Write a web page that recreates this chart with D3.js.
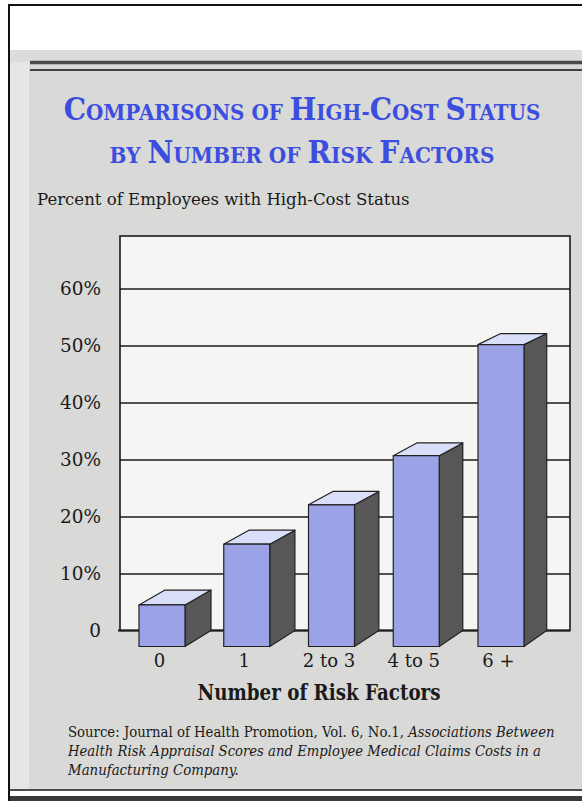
<!DOCTYPE html>
<html lang="en">
<head>
<meta charset="UTF-8">
<title>High-Cost Status by Risk Factors</title>
<script src="https://d3js.org/d3.v7.min.js"></script>
<style>
  body { margin: 0; background: #fff; }
  svg { display: block; }
  text { font-family: 'DejaVu Serif', 'Liberation Serif', serif; fill: #1a1a1a; }
</style>
</head>
<body>
<div class="canvas"></div>
<script>
  // data (percent, read against the back wall)
  const categories = ['0', '1', '2 to 3', '4 to 5', '6 +']
  const values = [7.1, 17.6, 24.4, 32.9, 52.1]
  const yTicks = [0, 10, 20, 30, 40, 50, 60]

  const W = 582, H = 801
  const svg = d3.select('.canvas')
    .append('svg')
    .attr('width', W)
    .attr('height', H)

  // stretch / squeeze a text to a measured width
  function fit(t, w, x, y) {
    const len = t.node().getBBox().width
    t.attr('x', 0).attr('y', 0)
      .attr('transform', `translate(${x},${y}) scale(${w / len},1)`)
    return t
  }

  // page background + frame
  svg.append('rect').attr('width', W).attr('height', H).attr('fill', '#fff')
  svg.append('rect').attr('x', 10).attr('y', 50).attr('width', W - 10).attr('height', 739).attr('fill', '#e6e6e4')
  svg.append('rect').attr('x', 29).attr('y', 50).attr('width', W - 29).attr('height', 739).attr('fill', '#d9d9d7')
  svg.append('rect').attr('x', 10).attr('y', 50).attr('width', W - 10).attr('height', 12).attr('fill', '#dcdcda')

  const rules = [
    { x1: 8, x2: W, y: 5, w: 2, c: '#111' },
    { x1: 30, x2: W, y: 62.5, w: 3.5, c: '#4a4a4a' },
    { x1: 30, x2: W, y: 70, w: 1.5, c: '#111' },
    { x1: 8, x2: W, y: 790, w: 1.5, c: '#111' },
    { x1: 8, x2: W, y: 798.5, w: 5, c: '#3a3a3a' }
  ]
  svg.selectAll('line.rule')
    .data(rules)
    .enter()
    .append('line')
    .attr('class', 'rule')
    .attr('x1', d => d.x1).attr('x2', d => d.x2)
    .attr('y1', d => d.y).attr('y2', d => d.y)
    .attr('stroke', d => d.c)
    .attr('stroke-width', d => d.w)
  svg.append('line').attr('x1', 9).attr('x2', 9).attr('y1', 4).attr('y2', H)
    .attr('stroke', '#111').attr('stroke-width', 2)

  // title in small caps
  const blue = '#3c4ee0'
  const titleLines = [
    [['C', 1], ['OMPARISONS OF ', 0], ['H', 1], ['IGH-', 0], ['C', 1], ['OST ', 0], ['S', 1], ['TATUS', 0]],
    [['BY ', 0], ['N', 1], ['UMBER OF ', 0], ['R', 1], ['ISK ', 0], ['F', 1], ['ACTORS', 0]]
  ]
  const titleY = [120, 162.5], titleW = [477, 385]
  titleLines.forEach((parts, i) => {
    const t = svg.append('text')
      .attr('text-anchor', 'middle')
      .style('font-weight', 'bold')
    t.selectAll('tspan')
      .data(parts)
      .enter()
      .append('tspan')
      .attr('font-size', d => d[1] ? 31 : 22)
      .style('fill', blue)
      .text(d => d[0])
    fit(t, titleW[i], 302, titleY[i])
  })

  fit(svg.append('text').attr('font-size', 17).text('Percent of Employees with High-Cost Status'), 373, 37, 205)

  // scales
  const y = d3.scaleLinear().domain([0, 60]).range([630.5, 288.5])
  const x = d3.scalePoint().domain(categories).range([162, 501])
  const barW = 46
  const wall = { x: 120, y: 236, w: 450 }

  // back wall
  svg.append('rect')
    .attr('x', wall.x).attr('y', wall.y)
    .attr('width', wall.w).attr('height', y(0) - wall.y)
    .attr('fill', '#f5f5f3')
    .attr('stroke', '#1a1a1a')
    .attr('stroke-width', 1.6)

  // gridlines
  const grid = svg.append('g')
    .attr('transform', `translate(${wall.x},0)`)
    .call(d3.axisLeft(y).tickValues(yTicks.slice(1)).tickSize(-wall.w).tickFormat(''))
  grid.select('.domain').remove()
  grid.selectAll('line').attr('stroke', '#1a1a1a').attr('stroke-width', 1.6)
  svg.append('line')
    .attr('x1', wall.x - 2).attr('x2', wall.x + wall.w)
    .attr('y1', y(0)).attr('y2', y(0))
    .attr('stroke', '#1a1a1a').attr('stroke-width', 1.8)

  // y labels
  const yAxis = svg.append('g')
    .attr('transform', 'translate(101,0)')
    .call(d3.axisLeft(y).tickValues(yTicks).tickSize(0).tickPadding(0)
      .tickFormat(d => d === 0 ? '0' : d + '%'))
  yAxis.select('.domain').remove()
  yAxis.selectAll('text')
    .attr('font-size', 19)
    .attr('font-family', "'DejaVu Serif', serif")
    .attr('fill', '#1a1a1a')
    .attr('transform', 'scale(0.97,1)')
    .attr('transform-origin', '0 0')

  // 3D bars
  const floorFront = y(0) + 16
  const depthY = top => 15.5 - 0.0149 * (y(0) - top)
  const depthX = xr => 26 - (xr - 185) * 0.0097
  const bars = svg.append('g')
    .selectAll('g')
    .data(values.map((v, i) => ({ cat: categories[i], v })))
    .enter()
    .append('g')
    .each(function (d) {
      const g = d3.select(this)
      const x0 = x(d.cat) - barW / 2, x1 = x0 + barW
      const backTop = y(d.v)
      const frontTop = backTop + depthY(backTop)
      const dx = depthX(x1)
      const stroke = { stroke: '#222', w: 1.2 }
      g.append('path')
        .attr('d', `M${x1},${frontTop}L${x1 + dx},${backTop}L${x1 + dx},${y(0)}L${x1},${floorFront}Z`)
        .attr('fill', '#575757')
      g.append('path')
        .attr('d', `M${x0},${frontTop}L${x0 + dx},${backTop}L${x1 + dx},${backTop}L${x1},${frontTop}Z`)
        .attr('fill', '#d9dff8')
      g.append('rect')
        .attr('x', x0).attr('y', frontTop)
        .attr('width', barW).attr('height', floorFront - frontTop)
        .attr('fill', '#9ba2e6')
      g.selectAll('path, rect')
        .attr('stroke', stroke.stroke)
        .attr('stroke-width', stroke.w)
        .attr('stroke-linejoin', 'round')
    })

  // x labels
  const xAxis = svg.append('g')
    .attr('transform', 'translate(-3,667)')
    .call(d3.axisBottom(x).tickSize(0))
  xAxis.select('.domain').remove()
  xAxis.selectAll('text')
    .attr('y', 0).attr('dy', 0)
    .attr('font-size', 19)
    .attr('font-family', "'DejaVu Serif', serif")
    .attr('fill', '#1a1a1a')
    .attr('transform', 'scale(0.95,1)')

  fit(svg.append('text').attr('text-anchor', 'middle').attr('font-size', 22)
    .style('font-weight', 'bold').text('Number of Risk Factors'), 243, 319, 700)

  // source note
  const src = svg.append('text').attr('font-size', 14)
  src.append('tspan').text('Source:  Journal of Health Promotion, Vol. 6, No.1, ')
  src.append('tspan').style('font-style', 'italic').text('Associations Between')
  fit(src, 487, 68, 737)
  fit(svg.append('text').attr('font-size', 14).style('font-style', 'italic')
    .text('Health Risk Appraisal Scores and Employee Medical Claims Costs in a'), 474, 68, 756)
  fit(svg.append('text').attr('font-size', 14).style('font-style', 'italic')
    .text('Manufacturing Company.'), 172, 68, 775)
</script>
</body>
</html>
